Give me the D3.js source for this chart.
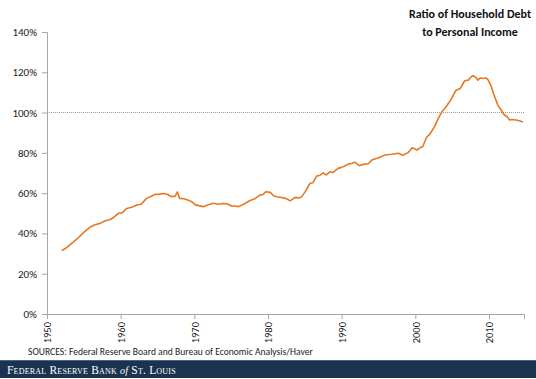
<!DOCTYPE html>
<html><head><meta charset="utf-8">
<script src="https://cdn.jsdelivr.net/npm/d3@7"></script>
<style>body{margin:0;background:#fff}svg{display:block}</style>
</head><body>
<script>
const titleLines = ["Ratio of Household Debt", "to Personal Income"];
const yTicks = [0, 20, 40, 60, 80, 100, 120, 140];
const xTicks = [1950, 1960, 1970, 1980, 1990, 2000, 2010];
const years = [1952.0,1952.5,1953,1954,1955,1955.8,1956.5,1957.2,1957.9,1958.5,1959.0,1959.7,1960.2,1960.8,1961.5,1962.2,1962.8,1963.5,1964.1,1964.7,1965.3,1965.8,1966.4,1966.9,1967.4,1967.7,1968.0,1968.6,1969.1,1969.6,1970.1,1970.6,1971.2,1971.9,1972.6,1973.2,1973.9,1974.5,1975.1,1975.6,1976.0,1976.7,1977.5,1978.2,1978.9,1979.3,1979.7,1980.3,1980.8,1981.2,1981.8,1982.4,1983.0,1983.7,1984.2,1984.6,1985.1,1985.7,1986.1,1986.6,1987.0,1987.5,1987.9,1988.4,1988.8,1989.5,1990.0,1990.5,1990.9,1991.4,1991.8,1992.4,1993.1,1993.6,1994.1,1995.0,1995.9,1996.8,1997.7,1998.3,1999.0,1999.6,2000.2,2000.7,2001.0,2001.5,2002.0,2002.6,2003.1,2003.6,2004.0,2004.5,2005.0,2005.5,2006.1,2006.7,2007.2,2007.5,2007.8,2008.2,2008.5,2008.8,2009.2,2009.6,2009.9,2010.3,2010.6,2011.2,2011.8,2012.1,2012.5,2012.8,2013.1,2013.7,2014.2,2014.6];
const ratio = [31.5,32.5,34,37,40.5,43,44.3,45,46.3,46.8,47.8,50,50.2,52.4,53,54.1,54.5,57.4,58.3,59.4,59.5,59.8,59.3,58.2,58.5,60.6,57.4,57.2,56.6,55.9,54.3,53.8,53.3,54.2,55,54.5,54.9,54.6,53.6,53.6,53.3,54.5,56.2,57.2,59,59.3,60.7,60.4,58.6,58.2,57.8,57.4,56.2,57.9,57.6,58.4,61,64.9,65.2,68.5,68.8,70.1,69.1,70.6,70.2,72.3,72.8,73.6,74.4,74.8,75.3,73.7,74.4,74.6,76.4,77.6,78.9,79.3,79.8,78.8,80.1,82.6,81.4,82.6,83.0,87.5,89.5,93,97,100.4,102,104.6,107.5,111,112,115.8,116.1,117.5,118.3,117.5,116.1,117.2,116.9,117.2,116.1,113,109.5,103.7,100.4,98.8,97.8,96.3,96.6,96.3,95.8,95.3];
const sourceText = "SOURCES: Federal Reserve Board and Bureau of Economic Analysis/Haver";

const W = 536, H = 379;
const svg = d3.select("body").append("svg").attr("width", W).attr("height", H);
const x = d3.scaleLinear().domain([1950, 2014.75]).range([47, 524]);
const y = d3.scaleLinear().domain([0, 140]).range([314, 32]);
const axisColor = "#a6a6a6";
const font = "Calibri, Carlito, Lato, 'Open Sans', sans-serif";

// 100% reference line
svg.append("line").attr("x1", x(1950)).attr("x2", x(2014.75)).attr("y1", y(100)).attr("y2", y(100))
  .attr("stroke", "#9a9a9a").attr("stroke-width", 1).attr("stroke-dasharray", "1,1").attr("shape-rendering","crispEdges");

// Y axis
const yAxis = svg.append("g").attr("transform", `translate(${x(1950)},0)`)
  .call(d3.axisLeft(y).tickValues(yTicks).tickSize(5).tickPadding(5).tickFormat(d => d + "%"));
yAxis.select(".domain").attr("stroke", axisColor);
yAxis.selectAll(".tick line").attr("stroke", axisColor);
yAxis.selectAll("text").attr("font-family", font).attr("font-size", 11).attr("fill", "#1a1a1a");

// X axis
const xAxis = svg.append("g").attr("transform", `translate(0,${y(0)})`)
  .call(d3.axisBottom(x).tickValues(xTicks).tickSize(5).tickFormat(d3.format("d")));
xAxis.select(".domain").attr("stroke", axisColor);
xAxis.selectAll(".tick line").attr("stroke", axisColor);
xAxis.selectAll("text").attr("font-family", font).attr("font-size", 10.5).attr("font-weight", 500).attr("fill", "#1a1a1a")
  .attr("transform", "rotate(-90)").attr("text-anchor", "end").attr("x", -8).attr("y", 0).attr("dy", "0.35em");

// Line
const pts = years.map((yr, i) => [yr, ratio[i]]);
svg.append("path").datum(pts)
  .attr("d", d3.line().x(d => x(d[0])).y(d => y(d[1])))
  .attr("fill", "none").attr("stroke", "#e8781f").attr("stroke-width", 1.6).attr("stroke-linejoin", "round");

// Title
svg.append("g").selectAll("text").data(titleLines).join("text")
  .attr("x", 470).attr("y", (d, i) => 18 + i * 17.5)
  .attr("text-anchor", "middle").attr("font-family", font).attr("font-weight", "bold")
  .attr("font-size", 12).attr("fill", "#111").text(d => d);

// Source
svg.append("text").attr("x", 28).attr("y", 355).attr("font-family", font).attr("font-size", 9.6)
  .attr("fill", "#222").text(sourceText);

// Footer band
svg.append("rect").attr("x", 0).attr("y", 360).attr("width", W).attr("height", 18).attr("fill", "#1b3350");
svg.append("line").attr("x1", 0).attr("x2", W).attr("y1", 360.5).attr("y2", 360.5).attr("stroke", "#4a6580");
const ft = svg.append("text").attr("x", 7).attr("y", 373.5).attr("font-family", "'Liberation Serif', 'DejaVu Serif', serif")
  .attr("font-size", 11.5).attr("fill", "#fff").attr("letter-spacing", 0.2);
ft.append("tspan").attr("font-variant", "small-caps").text("Federal Reserve Bank ");
ft.append("tspan").attr("font-style", "italic").attr("font-size", 10).text("of");
ft.append("tspan").attr("font-variant", "small-caps").text(" St. Louis");
</script>
</body></html>
